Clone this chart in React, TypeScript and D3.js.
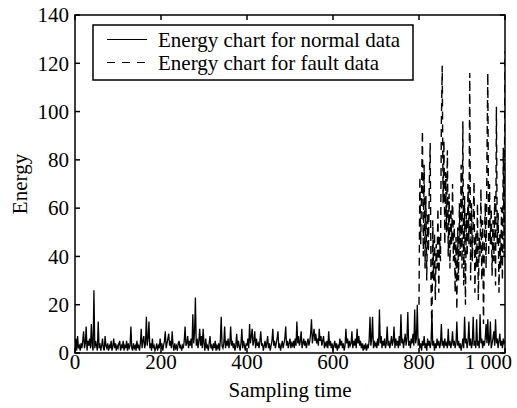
import React from "react";
import * as d3 from "d3";

// Normal-data energy, sampled every 2 time units from 0 to 1000
const normalStep = 2;
const normalValues: number[] = [
  2,6,1,7,2,3,1,4,2,5,9,2,4,11,1,5,3,6,2,12,3,1,26,2,5,
  3,1,13,2,4,1,3,6,2,1,7,3,2,4,1,3,2,5,1,3,6,2,4,1,3,
  2,4,5,1,3,2,5,1,3,2,5,1,4,2,3,11,2,1,4,2,3,1,5,2,3,
  1,4,10,2,5,7,2,4,15,3,6,13,2,4,1,6,2,3,1,2,4,1,3,2,6,
  2,4,1,3,5,9,2,4,6,8,3,5,2,9,3,1,4,2,3,1,4,5,2,3,1,
  3,2,5,11,3,4,7,2,5,3,6,2,16,4,8,23,3,6,2,5,10,3,7,2,10,
  4,1,6,2,3,1,4,7,2,3,1,4,2,5,1,3,2,4,1,5,15,3,2,4,11,
  2,5,3,6,2,4,11,3,5,2,4,1,3,8,2,5,3,1,4,10,2,5,3,1,4,
  3,6,2,12,4,7,10,3,5,9,2,6,3,4,2,5,9,3,4,1,3,5,2,4,7,
  2,4,1,3,5,10,3,5,2,4,6,9,2,4,1,3,5,2,4,6,11,3,5,2,4,
  6,2,4,3,5,2,6,3,13,4,7,3,5,9,2,4,6,3,5,2,4,6,3,5,8,
  14,4,7,10,5,8,4,6,3,10,5,7,3,5,7,2,4,3,5,2,9,3,5,2,4,
  1,3,5,2,4,1,3,2,6,3,5,2,4,1,3,10,4,6,2,5,3,4,9,2,5,
  3,6,2,10,4,7,3,5,2,4,1,3,2,4,1,3,2,5,15,3,6,15,2,5,3,
  4,2,6,3,18,4,7,2,5,3,6,2,4,11,3,5,2,4,7,3,5,11,2,6,3,
  5,2,7,3,16,4,6,2,5,8,3,6,17,3,5,2,6,4,8,3,18,4,6,20,3,
  6,2,4,1,5,3,7,2,4,1,6,3,5,2,4,16,3,5,1,4,2,6,3,5,2,
  4,12,3,5,2,6,3,4,2,10,3,5,2,4,9,3,5,2,4,13,3,5,2,4,1,
  3,6,2,15,4,6,2,5,13,3,6,2,4,15,3,5,2,14,3,5,2,16,4,6,2,
  5,3,6,12,4,14,3,5,13,2,4,6,9,3,14,4,6,2,5,8,3,5,2,6,4,
  5,
];

// Fault-data energy, sampled every 2 time units from 800 to 1000
const faultStart = 800;
const faultStep = 2;
const faultValues: number[] = [
  20,73,45,68,92,40,78,35,65,30,58,42,70,87,28,8,55,30,50,22,
  45,35,60,25,48,38,95,119,62,88,45,75,50,84,40,66,35,60,45,70,
  38,55,25,48,18,52,30,62,40,78,35,96,28,65,20,58,40,70,45,116,
  30,62,38,55,71,25,50,35,62,22,48,40,68,30,55,12,45,62,35,80,
  116,40,70,45,60,32,55,38,65,28,102,45,58,25,50,35,60,30,85,40,
  125,
];

const xTicks = [0, 200, 400, 600, 800, 1000];
const xTickLabels = ["0", "200", "400", "600", "800", "1 000"];
const yTicks = [0, 20, 40, 60, 80, 100, 120, 140];
const yTickLabels = ["0", "20", "40", "60", "80", "100", "120", "140"];

const legendLabels = ["Energy chart for normal data", "Energy chart for fault data"];
const xTitle = "Sampling time";
const yTitle = "Energy";

const W = 517;
const H = 408;
const M = { left: 75, right: 505, top: 15, bottom: 353 };
const FONT = "'Liberation Serif', 'Times New Roman', serif";

export default function App() {
  const x = d3.scaleLinear().domain([0, 1000]).range([M.left, M.right]);
  const y = d3.scaleLinear().domain([0, 140]).range([M.bottom, M.top]);

  const normalPts: [number, number][] = normalValues.map((v, i) => [i * normalStep, v]);
  const faultPts: [number, number][] = faultValues.map((v, i) => [faultStart + i * faultStep, v]);

  const line = d3
    .line<[number, number]>()
    .x((d) => x(d[0]))
    .y((d) => y(d[1]));

  const tickLen = 5;

  return (
    <svg
      width={W}
      height={H}
      style={{ position: "absolute", left: 0, top: 0, background: "#fff" }}
      fontFamily={FONT}
    >
      <defs>
        <clipPath id="plotClip">
          <rect x={M.left} y={M.top} width={M.right - M.left} height={M.bottom - M.top} />
        </clipPath>
      </defs>
      <rect x={0} y={0} width={W} height={H} fill="#fff" />

      <g clipPath="url(#plotClip)">
        <path d={line(faultPts) || ""} fill="none" stroke="#000" strokeWidth={1.4} strokeDasharray="8,5" />
        <path d={line(normalPts) || ""} fill="none" stroke="#000" strokeWidth={1.3} />
      </g>

      {/* frame */}
      <rect
        x={M.left}
        y={M.top}
        width={M.right - M.left}
        height={M.bottom - M.top}
        fill="none"
        stroke="#000"
        strokeWidth={1.5}
      />

      {/* x ticks */}
      {xTicks.map((t, i) => (
        <g key={"xt" + i}>
          <line x1={x(t)} x2={x(t)} y1={M.bottom} y2={M.bottom - tickLen} stroke="#000" strokeWidth={1.5} />
          <line x1={x(t)} x2={x(t)} y1={M.top} y2={M.top + tickLen} stroke="#000" strokeWidth={1.5} />
          <text
            x={i === xTicks.length - 1 ? x(t) + 7 : x(t)}
            y={369}
            fontSize={21}
            textAnchor={i === xTicks.length - 1 ? "end" : "middle"}
          >
            {xTickLabels[i]}
          </text>
        </g>
      ))}

      {/* y ticks */}
      {yTicks.map((t, i) => (
        <g key={"yt" + i}>
          <line x1={M.left} x2={M.left + tickLen} y1={y(t)} y2={y(t)} stroke="#000" strokeWidth={1.5} />
          <line x1={M.right} x2={M.right - tickLen} y1={y(t)} y2={y(t)} stroke="#000" strokeWidth={1.5} />
          <text x={69} y={y(t)} dy="0.35em" fontSize={21} textAnchor="end">
            {yTickLabels[i]}
          </text>
        </g>
      ))}

      {/* axis titles */}
      <text x={(M.left + M.right) / 2} y={397} fontSize={21} textAnchor="middle">
        {xTitle}
      </text>
      <text transform={`translate(27,${(M.top + M.bottom) / 2}) rotate(-90)`} fontSize={21} textAnchor="middle">
        {yTitle}
      </text>

      {/* legend */}
      <rect x={93} y={25} width={320} height={55} fill="#fff" stroke="#000" strokeWidth={1.5} />
      <line x1={107} x2={147} y1={39.5} y2={39.5} stroke="#000" strokeWidth={1.2} />
      <line x1={107} x2={147} y1={62.5} y2={62.5} stroke="#000" strokeWidth={1.2} strokeDasharray="8,7" />
      <text x={158} y={46.5} fontSize={21}>
        {legendLabels[0]}
      </text>
      <text x={158} y={69.5} fontSize={21}>
        {legendLabels[1]}
      </text>
    </svg>
  );
}
